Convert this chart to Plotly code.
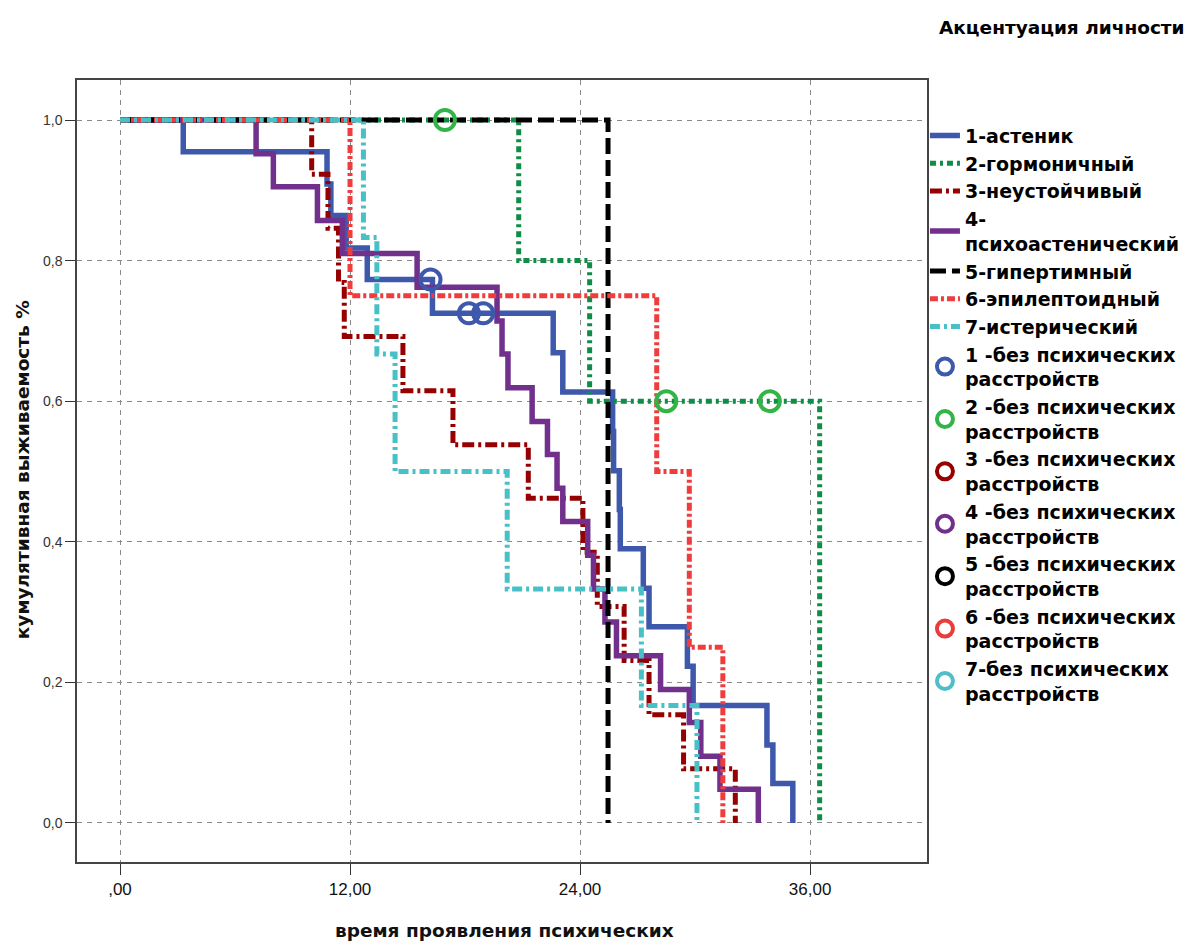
import plotly.graph_objects as go

# ---- data ----
group_names = ["1-астеник", "2-гормоничный", "3-неустойчивый", "4-<br>психоастенический",
               "5-гипертимный", "6-эпилептоидный", "7-истерический"]
censor_names = ["1 -без психических<br>расстройств", "2 -без психических<br>расстройств",
                "3 -без психических<br>расстройств", "4 -без психических<br>расстройств",
                "5 -без психических<br>расстройств", "6 -без психических<br>расстройств",
                "7-без психических<br>расстройств"]

t1 = [0, 3.3, 10.8, 11.0, 11.8, 12.9, 16.3, 22.6, 23.1, 25.7, 25.75, 26.05, 26.1, 27.3, 27.6, 29.6, 29.9, 33.75, 34.06, 35.1]
s1 = [1.0, 0.955, 0.909, 0.864, 0.818, 0.773, 0.725, 0.669, 0.613, 0.557, 0.501, 0.446, 0.390, 0.334, 0.279, 0.223, 0.167, 0.111, 0.056, 0.0]

t2 = [0, 20.8, 24.5, 36.5]
s2 = [1.0, 0.8, 0.6, 0.0]

t3 = [0, 10.0, 10.85, 11.4, 11.7, 14.76, 17.37, 21.3, 24.15, 24.9, 26.3, 27.6, 29.4, 32.1]
s3 = [1.0, 0.923, 0.846, 0.769, 0.692, 0.615, 0.538, 0.462, 0.385, 0.308, 0.231, 0.154, 0.077, 0.0]

t4 = [0, 7.1, 8.0, 10.3, 11.6, 15.5, 19.67, 19.93, 20.24, 21.5, 22.3, 22.8, 23.1, 24.4, 24.7, 25.3, 25.9, 28.2, 29.7, 30.3, 31.3, 33.3]
s4 = [1.0, 0.952, 0.905, 0.857, 0.810, 0.762, 0.714, 0.667, 0.619, 0.571, 0.524, 0.476, 0.429, 0.381, 0.333, 0.286, 0.238, 0.190, 0.143, 0.095, 0.048, 0.0]

t5 = [0, 25.46]
s5 = [1.0, 0.0]

t6 = [0, 12.0, 28.0, 29.7, 31.45]
s6 = [1.0, 0.75, 0.5, 0.25, 0.0]

t7 = [0, 12.7, 13.4, 14.35, 20.2, 27.2, 30.1]
s7 = [1.0, 0.833, 0.667, 0.5, 0.333, 0.167, 0.0]

# censored observations
c1_t = [16.2, 18.2, 18.95]
c1_s = [0.773, 0.725, 0.725]
c2_t = [16.95, 28.5, 33.9]
c2_s = [1.0, 0.6, 0.6]
c3_t, c3_s = [None], [None]
c4_t, c4_s = [None], [None]
c5_t, c5_s = [None], [None]
c6_t, c6_s = [None], [None]
c7_t, c7_s = [None], [None]

x_ticks = [0, 12, 24, 36]
x_tick_labels = [",00", "12,00", "24,00", "36,00"]
y_ticks = [0.0, 0.2, 0.4, 0.6, 0.8, 1.0]
y_tick_labels = ["0,0", "0,2", "0,4", "0,6", "0,8", "1,0"]

# ---- styles ----
line_colors = ["rgb(62,88,172)", "rgb(15,140,70)", "rgb(150,0,0)", "rgb(112,48,140)",
               "rgb(0,0,0)", "rgb(240,60,60)", "rgb(72,192,200)"]
circle_colors = ["rgb(62,88,172)", "rgb(50,180,70)", "rgb(150,0,0)", "rgb(112,48,140)",
                 "rgb(0,0,0)", "rgb(235,60,60)", "rgb(80,190,200)"]
dashes = ["solid", "6px,4px,3px,4px", "12px,4px,3px,4px", "solid",
          "16px,6px", "8px,3px,3px,3px", "10px,4px,3px,4px"]

curves = [(t1, s1), (t2, s2), (t3, s3), (t4, s4), (t5, s5), (t6, s6), (t7, s7)]
censors = [(c1_t, c1_s), (c2_t, c2_s), (c3_t, c3_s), (c4_t, c4_s),
           (c5_t, c5_s), (c6_t, c6_s), (c7_t, c7_s)]

fig = go.Figure()
for i, (t, s) in enumerate(curves):
    fig.add_trace(go.Scatter(
        x=t, y=s, mode="lines", name=group_names[i],
        line=dict(shape="hv", color=line_colors[i], width=5.5 if dashes[i] == "solid" else 5,
                  dash=dashes[i]),
    ))
for i, (t, s) in enumerate(censors):
    fig.add_trace(go.Scatter(
        x=t, y=s, mode="markers", name=censor_names[i],
        marker=dict(symbol="circle-open", size=20, color=circle_colors[i],
                    line=dict(width=4, color=circle_colors[i])),
    ))

axis_common = dict(
    showline=True, mirror=True, linecolor="#444", linewidth=1.5,
    showgrid=True, gridcolor="#8a8a8a", gridwidth=1, griddash="5px,5px",
    zeroline=False, ticks="outside", tickcolor="#333",
)

fig.update_xaxes(
    range=[-2.243, 42.10], tickvals=x_ticks, ticktext=x_tick_labels,
    ticklen=11, tickfont=dict(family="Liberation Sans", size=17, color="#111"),
    **axis_common,
)
fig.update_yaxes(
    range=[-0.0555, 1.0569], tickvals=y_ticks, ticktext=y_tick_labels,
    ticklen=10, tickfont=dict(family="Liberation Sans", size=14, color="#333"),
    **axis_common,
)

fig.update_layout(
    width=1201, height=941,
    margin=dict(l=77, r=274, t=80, b=79),
    paper_bgcolor="white", plot_bgcolor="white",
    showlegend=True,
    legend=dict(
        x=0.9976, xanchor="left", y=0.953, yanchor="top",
        font=dict(family="DejaVu Sans", size=19, color="#000", weight="bold"),
        itemwidth=30, tracegroupgap=0, bgcolor="rgba(0,0,0,0)",
        valign="middle",
    ),
    annotations=[
        dict(text="Акцентуация личности", xref="paper", yref="paper",
             x=1.0118, y=1.0665, xanchor="left", yanchor="middle", showarrow=False,
             font=dict(family="DejaVu Sans", size=18.5, color="#000", weight="bold")),
        dict(text="время проявления психических", xref="paper", yref="paper",
             x=0.503, y=-0.087, xanchor="center", yanchor="middle", showarrow=False,
             font=dict(family="DejaVu Sans", size=18.5, color="#111", weight="bold")),
        dict(text="кумулятивная выживаемость %", xref="paper", yref="paper",
             x=-0.0647, y=0.501, xanchor="center", yanchor="middle", showarrow=False,
             textangle=-90,
             font=dict(family="DejaVu Sans", size=18.5, color="#111", weight="bold")),
    ],
)

fig.write_html("out.html")
